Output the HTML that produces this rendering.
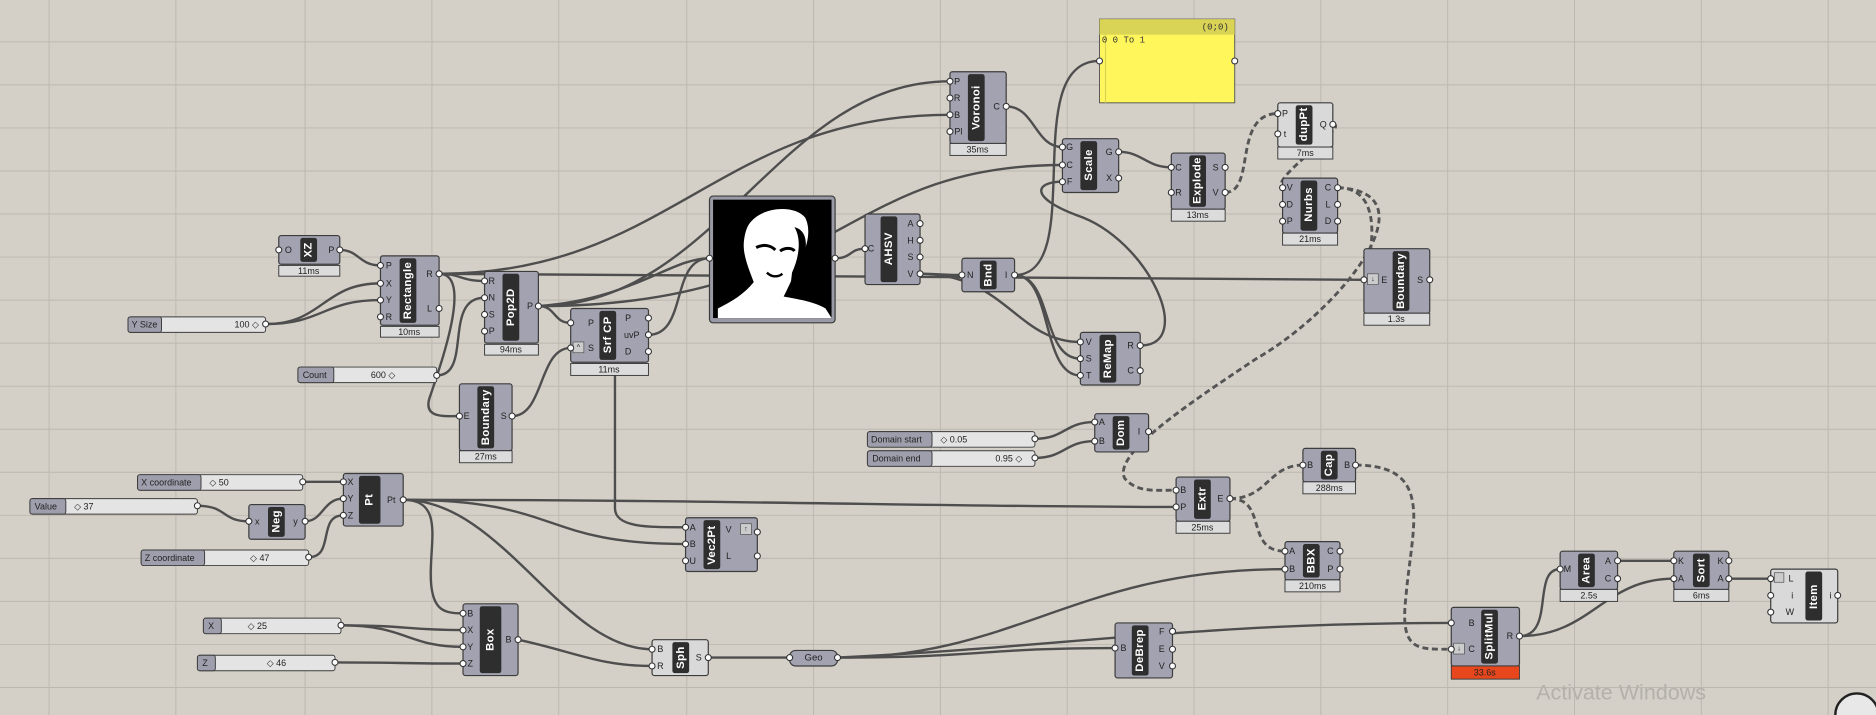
<!DOCTYPE html>
<html><head><meta charset="utf-8"><style>
html,body{margin:0;padding:0;background:#d4d0c8;overflow:hidden}
svg{display:block}
text{font-family:"Liberation Sans",sans-serif}
.b{fill:#a2a2b0;stroke:#3c3c3c;stroke-width:1}
.bl{fill:#d9d9d9;stroke:#3c3c3c;stroke-width:1}
.n{fill:#2e2e2e}
.nm{fill:#fff;font-size:9.5px;font-weight:bold;text-anchor:middle;dominant-baseline:central;letter-spacing:.3px}
.l{fill:#222;font-size:7.5px;text-anchor:middle;dominant-baseline:central}
.t{fill:#dcdcdc;stroke:#3c3c3c;stroke-width:.8}
.tt{fill:#222;font-size:7.5px;text-anchor:middle;dominant-baseline:central}
.g{fill:#fff;stroke:#333;stroke-width:.9}
.w{fill:none;stroke:#4e4e4e;stroke-width:2}
.wd{fill:none;stroke:#555;stroke-width:2.4;stroke-dasharray:5 3}
.sl{fill:#e4e4e4;stroke:#3c3c3c;stroke-width:.8}
.sll{fill:#9e9eac;stroke:#3c3c3c;stroke-width:.8}
.st{fill:#222;font-size:7.5px;dominant-baseline:central}
.grid{stroke:#bcb8b0;stroke-width:.8}
</style></head><body>
<svg width="1876" height="715" viewBox="0 0 1568 598" preserveAspectRatio="none" xmlns="http://www.w3.org/2000/svg">
<rect width="1568" height="598" fill="#d4d0c8"/>
<g class="grid">
<line x1="41" y1="0" x2="41" y2="598"/><line x1="147" y1="0" x2="147" y2="598"/><line x1="255" y1="0" x2="255" y2="598"/><line x1="361" y1="0" x2="361" y2="598"/><line x1="467" y1="0" x2="467" y2="598"/><line x1="574" y1="0" x2="574" y2="598"/><line x1="680" y1="0" x2="680" y2="598"/><line x1="786" y1="0" x2="786" y2="598"/><line x1="892" y1="0" x2="892" y2="598"/><line x1="998" y1="0" x2="998" y2="598"/><line x1="1104" y1="0" x2="1104" y2="598"/><line x1="1210" y1="0" x2="1210" y2="598"/><line x1="1316" y1="0" x2="1316" y2="598"/><line x1="1422" y1="0" x2="1422" y2="598"/><line x1="1528" y1="0" x2="1528" y2="598"/>
<line x1="0" y1="35" x2="1568" y2="35"/><line x1="0" y1="71" x2="1568" y2="71"/><line x1="0" y1="107" x2="1568" y2="107"/><line x1="0" y1="143" x2="1568" y2="143"/><line x1="0" y1="179" x2="1568" y2="179"/><line x1="0" y1="215" x2="1568" y2="215"/><line x1="0" y1="251" x2="1568" y2="251"/><line x1="0" y1="287" x2="1568" y2="287"/><line x1="0" y1="323" x2="1568" y2="323"/><line x1="0" y1="359" x2="1568" y2="359"/><line x1="0" y1="395" x2="1568" y2="395"/><line x1="0" y1="431" x2="1568" y2="431"/><line x1="0" y1="467" x2="1568" y2="467"/><line x1="0" y1="503" x2="1568" y2="503"/><line x1="0" y1="539" x2="1568" y2="539"/><line x1="0" y1="575" x2="1568" y2="575"/>
</g>

<!-- wires -->
<g>
<path class="w" d="M284,209 C300,209 300,222 318,222"/>
<path class="w" d="M222,271 C270,271 270,237 318,237"/>
<path class="w" d="M222,271 C270,271 270,251 318,251"/>
<path class="w" d="M367,229 C385,229 385,235 405,235"/>
<path class="w" d="M367,229 C700,229 800,234 1140,234"/>
<path class="w" d="M367,229 C560,229 600,96 794,96"/>
<path class="w" d="M367,229 C395,229 370,300 360,330 C352,350 370,348 384,348"/>
<path class="w" d="M365,314 C395,314 370,249 405,249"/>
<path class="w" d="M450,256 C600,256 650,68 794,68"/>
<path class="w" d="M450,256 C700,256 700,138 888,138"/>
<path class="w" d="M450,256 C465,256 462,270 477,270"/>
<path class="w" d="M450,256 C530,250 560,216 593,216"/>
<path class="w" d="M428,348 C455,348 450,291 477,291"/>
<path class="w" d="M542,280 C575,280 560,216 593,216"/>
<path class="w" d="M514,314 L514,425 C514,441 540,441 573,441"/>
<path class="w" d="M698,216 C712,216 710,208 723,208"/>
<path class="w" d="M769,229 C785,229 788,230 804,230"/>
<path class="w" d="M769,229 C840,229 850,286 903,286"/>
<path class="w" d="M848,230 C910,230 850,51 919,51"/>
<path class="w" d="M848,230 C880,230 870,300 903,300"/>
<path class="w" d="M848,230 C880,230 870,314 903,314"/>
<path class="w" d="M841,89 C865,89 865,123 888,123"/>
<path class="w" d="M953,289 C1000,289 960,200 900,180 C860,165 865,152 888,152"/>
<path class="w" d="M935,127 C955,127 958,140 979,140"/>
<path class="wd" d="M1024,161 C1050,161 1030,95 1068,95"/>
<path class="wd" d="M1114,104 C1130,104 1060,150 1072,157"/>
<path class="wd" d="M1118,157 C1165,157 1140,234 1140,234"/>
<path class="wd" d="M1118,157 C1200,160 1120,260 1050,300 C990,340 930,380 940,400 C950,412 965,410 983,410"/>
<path class="w" d="M865,367 C890,367 890,353 915,353"/>
<path class="w" d="M865,383 C890,383 890,369 915,369"/>
<path class="w" d="M253,403 C270,403 270,403 287,403"/>
<path class="w" d="M165,423 C190,423 185,436 208,436"/>
<path class="w" d="M255,436 C270,436 270,417 287,417"/>
<path class="w" d="M258,466 C280,466 265,431 287,431"/>
<path class="w" d="M337,418 C600,418 800,424 983,424"/>
<path class="w" d="M337,418 C470,418 450,455 573,455"/>
<path class="w" d="M337,418 C370,418 360,450 360,480 C360,510 370,513 387,513"/>
<path class="w" d="M337,418 C420,418 470,543 545,543"/>
<path class="w" d="M285,523 C340,523 340,527 387,527"/>
<path class="w" d="M285,523 C340,523 340,541 387,541"/>
<path class="w" d="M280,554 C330,554 340,555 387,555"/>
<path class="w" d="M433,535 C480,545 500,557 545,557"/>
<path class="w" d="M592,550 C620,550 630,550 660,550"/>
<path class="w" d="M700,550 C820,550 820,542 932,542"/>
<path class="w" d="M700,550 C850,550 900,476 1074,476"/>
<path class="w" d="M700,550 C900,540 1000,521 1213,521"/>
<path class="wd" d="M1028,417 C1060,417 1060,389 1089,389"/>
<path class="wd" d="M1028,417 C1060,417 1040,461 1074,461"/>
<path class="wd" d="M1133,389 C1200,389 1180,440 1175,500 C1170,545 1185,543 1213,543"/>
<path class="w" d="M1270,532 C1300,532 1280,476 1304,476"/>
<path class="w" d="M1270,532 C1330,532 1340,484 1399,484"/>
<path class="w" d="M1352,469 C1375,469 1375,469 1399,469"/>
<path class="w" d="M1445,484 C1460,484 1465,484 1480,484"/>
</g>

<!-- Panel -->
<rect x="919" y="16" width="113" height="70" fill="#fff65c" stroke="#555" stroke-width=".8"/>
<rect x="919" y="16" width="113" height="13" fill="#d9d356"/>
<line x1="924" y1="16" x2="924" y2="86" stroke="#d9d356" stroke-width="1"/>
<text x="1027" y="23" style="font-family:'Liberation Mono',monospace;font-size:7.5px;fill:#333;text-anchor:end;dominant-baseline:central">(0;0)</text>
<text x="921" y="34" style="font-family:'Liberation Mono',monospace;font-size:7.5px;fill:#333;dominant-baseline:central">0 0 To 1</text>
<circle class="g" cx="919" cy="51" r="2.5"/><circle class="g" cx="1032" cy="51" r="2.5"/>

<!-- XZ -->
<rect class="b" x="233" y="197" width="51" height="24" rx="2"/><rect class="n" x="251" y="199" width="14" height="20" rx="2"/>
<text class="nm" transform="translate(258,209) rotate(-90)">XZ</text>
<text class="l" x="241" y="209">O</text><text class="l" x="277" y="209">P</text>
<circle class="g" cx="233" cy="209" r="2.5"/><circle class="g" cx="284" cy="209" r="2.5"/>
<rect class="t" x="233" y="222" width="51" height="9"/><text class="tt" x="258" y="226.5">11ms</text>

<!-- Rectangle -->
<rect class="b" x="318" y="214" width="49" height="58" rx="2"/><rect class="n" x="334" y="216" width="14" height="54" rx="2"/>
<text class="nm" transform="translate(341,243) rotate(-90)">Rectangle</text>
<text class="l" x="325" y="222">P</text><text class="l" x="325" y="237">X</text><text class="l" x="325" y="251">Y</text><text class="l" x="325" y="265">R</text>
<text class="l" x="359" y="229">R</text><text class="l" x="359" y="258">L</text>
<circle class="g" cx="318" cy="222" r="2.5"/><circle class="g" cx="318" cy="237" r="2.5"/><circle class="g" cx="318" cy="251" r="2.5"/><circle class="g" cx="318" cy="265" r="2.5"/>
<circle class="g" cx="367" cy="229" r="2.5"/><circle class="g" cx="367" cy="258" r="2.5"/>
<rect class="t" x="318" y="273" width="49" height="9"/><text class="tt" x="342" y="277.5">10ms</text>

<!-- Pop2D -->
<rect class="b" x="405" y="227" width="45" height="60" rx="2"/><rect class="n" x="420" y="229" width="14" height="56" rx="2"/>
<text class="nm" transform="translate(427,257) rotate(-90)">Pop2D</text>
<text class="l" x="411" y="235">R</text><text class="l" x="411" y="249">N</text><text class="l" x="411" y="263">S</text><text class="l" x="411" y="277">P</text><text class="l" x="443" y="256">P</text>
<circle class="g" cx="405" cy="235" r="2.5"/><circle class="g" cx="405" cy="249" r="2.5"/><circle class="g" cx="405" cy="263" r="2.5"/><circle class="g" cx="405" cy="277" r="2.5"/><circle class="g" cx="450" cy="256" r="2.5"/>
<rect class="t" x="405" y="288" width="45" height="9"/><text class="tt" x="427" y="292.5">94ms</text>

<!-- Srf CP -->
<rect class="b" x="477" y="258" width="65" height="45" rx="2"/><rect class="n" x="501" y="260" width="14" height="41" rx="2"/>
<text class="nm" transform="translate(508,280) rotate(-90)">Srf CP</text>
<text class="l" x="494" y="270">P</text><text class="l" x="494" y="291">S</text>
<rect x="479" y="286" width="9" height="9" fill="#ccc" stroke="#555" stroke-width=".6"/><text class="l" x="483.5" y="290.5" style="font-size:6px">^</text>
<text class="l" x="525" y="266">P</text><text class="l" x="528" y="280">uvP</text><text class="l" x="525" y="294">D</text>
<circle class="g" cx="477" cy="270" r="2.5"/><circle class="g" cx="477" cy="291" r="2.5"/><circle class="g" cx="542" cy="266" r="2.5"/><circle class="g" cx="542" cy="280" r="2.5"/><circle class="g" cx="542" cy="294" r="2.5"/>
<rect class="t" x="477" y="304" width="65" height="10"/><text class="tt" x="509" y="309">11ms</text>

<!-- Y Size slider -->
<rect class="sl" x="107" y="265" width="115" height="13" rx="2"/><rect class="sll" x="107" y="265" width="28" height="13" rx="2"/>
<text class="st" x="110" y="271.5">Y Size</text><text class="st" x="196" y="271.5">100 ◇</text>
<circle class="g" cx="222" cy="271" r="2.5"/>
<!-- Count slider -->
<rect class="sl" x="249" y="307" width="116" height="13" rx="2"/><rect class="sll" x="249" y="307" width="30" height="13" rx="2"/>
<text class="st" x="253" y="313.5">Count</text><text class="st" x="310" y="313.5">600 ◇</text>
<circle class="g" cx="365" cy="314" r="2.5"/>

<!-- Boundary left -->
<rect class="b" x="384" y="321" width="44" height="56" rx="2"/><rect class="n" x="399" y="323" width="14" height="52" rx="2"/>
<text class="nm" transform="translate(406,349) rotate(-90)">Boundary</text>
<text class="l" x="390" y="348">E</text><text class="l" x="421" y="348">S</text>
<circle class="g" cx="384" cy="348" r="2.5"/><circle class="g" cx="428" cy="348" r="2.5"/>
<rect class="t" x="384" y="377" width="44" height="10"/><text class="tt" x="406" y="382">27ms</text>

<!-- Image -->
<rect x="593" y="164" width="105" height="106" rx="3" fill="#9a9aa6" stroke="#3c3c3c"/>
<rect x="596" y="167" width="99" height="99" fill="#000"/>
<path d="M628,185 C640,172 665,172 673,182 C678,192 675,205 670,215 C666,225 660,238 655,248 C665,250 680,252 690,258 L695,266 L600,266 L600,258 C612,252 622,246 630,236 C626,225 620,212 622,200 C623,193 625,188 628,185 Z" fill="#fff"/>
<path d="M632,207 C638,204 644,205 648,209 M652,210 C656,207 662,207 664,210" stroke="#000" stroke-width="2.5" fill="none"/>
<path d="M641,228 C645,232 650,232 654,229" stroke="#000" stroke-width="2" fill="none"/>
<path d="M664,190 C670,200 668,215 662,228 L660,245 L672,248 L672,215 C676,200 672,192 664,190 Z" fill="#000"/>
<circle class="g" cx="593" cy="216" r="2.5"/><circle class="g" cx="698" cy="216" r="2.5"/>

<!-- AHSV -->
<rect class="b" x="723" y="179" width="46" height="59" rx="2"/><rect class="n" x="736" y="181" width="14" height="55" rx="2"/>
<text class="nm" transform="translate(743,208) rotate(-90)">AHSV</text>
<text class="l" x="728" y="208">C</text><text class="l" x="761" y="187">A</text><text class="l" x="761" y="201">H</text><text class="l" x="761" y="215">S</text><text class="l" x="761" y="229">V</text>
<circle class="g" cx="723" cy="208" r="2.5"/><circle class="g" cx="769" cy="187" r="2.5"/><circle class="g" cx="769" cy="201" r="2.5"/><circle class="g" cx="769" cy="215" r="2.5"/><circle class="g" cx="769" cy="229" r="2.5"/>

<!-- Bnd -->
<rect class="b" x="804" y="216" width="44" height="28" rx="2"/><rect class="n" x="819" y="218" width="14" height="24" rx="2"/>
<text class="nm" transform="translate(826,230) rotate(-90)">Bnd</text>
<text class="l" x="811" y="230">N</text><text class="l" x="841" y="230">I</text>
<circle class="g" cx="804" cy="230" r="2.5"/><circle class="g" cx="848" cy="230" r="2.5"/>

<!-- Voronoi -->
<rect class="b" x="794" y="60" width="47" height="60" rx="2"/><rect class="n" x="809" y="62" width="14" height="56" rx="2"/>
<text class="nm" transform="translate(816,90) rotate(-90)">Voronoi</text>
<text class="l" x="800" y="68">P</text><text class="l" x="800" y="82">R</text><text class="l" x="800" y="96">B</text><text class="l" x="801" y="110">Pl</text><text class="l" x="833" y="89">C</text>
<circle class="g" cx="794" cy="68" r="2.5"/><circle class="g" cx="794" cy="82" r="2.5"/><circle class="g" cx="794" cy="96" r="2.5"/><circle class="g" cx="794" cy="110" r="2.5"/><circle class="g" cx="841" cy="89" r="2.5"/>
<rect class="t" x="794" y="120" width="47" height="10"/><text class="tt" x="817" y="125">35ms</text>

<!-- Scale -->
<rect class="b" x="888" y="116" width="47" height="45" rx="2"/><rect class="n" x="903" y="118" width="14" height="41" rx="2"/>
<text class="nm" transform="translate(910,138) rotate(-90)">Scale</text>
<text class="l" x="894" y="123">G</text><text class="l" x="894" y="138">C</text><text class="l" x="894" y="152">F</text><text class="l" x="927" y="127">G</text><text class="l" x="927" y="149">X</text>
<circle class="g" cx="888" cy="123" r="2.5"/><circle class="g" cx="888" cy="138" r="2.5"/><circle class="g" cx="888" cy="152" r="2.5"/><circle class="g" cx="935" cy="127" r="2.5"/><circle class="g" cx="935" cy="149" r="2.5"/>

<!-- Explode -->
<rect class="b" x="979" y="128" width="45" height="47" rx="2"/><rect class="n" x="994" y="130" width="14" height="43" rx="2"/>
<text class="nm" transform="translate(1001,151) rotate(-90)">Explode</text>
<text class="l" x="985" y="140">C</text><text class="l" x="985" y="161">R</text><text class="l" x="1016" y="140">S</text><text class="l" x="1016" y="161">V</text>
<circle class="g" cx="979" cy="140" r="2.5"/><circle class="g" cx="979" cy="161" r="2.5"/><circle class="g" cx="1024" cy="140" r="2.5"/><circle class="g" cx="1024" cy="161" r="2.5"/>
<rect class="t" x="979" y="175" width="45" height="10"/><text class="tt" x="1001" y="180">13ms</text>

<!-- dupPt -->
<rect class="bl" x="1068" y="86" width="46" height="37" rx="2"/><rect class="n" x="1083" y="88" width="14" height="33" rx="2"/>
<text class="nm" transform="translate(1090,104) rotate(-90)">dupPt</text>
<text class="l" x="1074" y="95">P</text><text class="l" x="1074" y="112">t</text><text class="l" x="1106" y="104">Q</text>
<circle class="g" cx="1068" cy="95" r="2.5"/><circle class="g" cx="1068" cy="112" r="2.5"/><circle class="g" cx="1114" cy="104" r="2.5"/>
<rect class="t" x="1068" y="123" width="46" height="10"/><text class="tt" x="1091" y="128">7ms</text>

<!-- Nurbs -->
<rect class="b" x="1072" y="149" width="46" height="46" rx="2"/><rect class="n" x="1087" y="151" width="14" height="42" rx="2"/>
<text class="nm" transform="translate(1094,171) rotate(-90)">Nurbs</text>
<text class="l" x="1078" y="157">V</text><text class="l" x="1078" y="171">D</text><text class="l" x="1078" y="185">P</text><text class="l" x="1110" y="157">C</text><text class="l" x="1110" y="171">L</text><text class="l" x="1110" y="185">D</text>
<circle class="g" cx="1072" cy="157" r="2.5"/><circle class="g" cx="1072" cy="171" r="2.5"/><circle class="g" cx="1072" cy="185" r="2.5"/><circle class="g" cx="1118" cy="157" r="2.5"/><circle class="g" cx="1118" cy="171" r="2.5"/><circle class="g" cx="1118" cy="185" r="2.5"/>
<rect class="t" x="1072" y="195" width="46" height="10"/><text class="tt" x="1095" y="200">21ms</text>

<!-- Boundary right -->
<rect class="b" x="1140" y="208" width="55" height="54" rx="2"/><rect class="n" x="1164" y="210" width="14" height="50" rx="2"/>
<text class="nm" transform="translate(1171,235) rotate(-90)">Boundary</text>
<rect x="1143" y="229" width="9" height="9" fill="#ccc" stroke="#555" stroke-width=".6"/><text class="l" x="1147.5" y="233.5" style="font-size:6px">↓</text>
<text class="l" x="1157" y="234">E</text><text class="l" x="1187" y="234">S</text>
<circle class="g" cx="1140" cy="234" r="2.5"/><circle class="g" cx="1195" cy="234" r="2.5"/>
<rect class="t" x="1140" y="262" width="55" height="10"/><text class="tt" x="1167" y="267">1.3s</text>

<!-- ReMap -->
<rect class="b" x="903" y="278" width="50" height="44" rx="2"/><rect class="n" x="919" y="280" width="14" height="40" rx="2"/>
<text class="nm" transform="translate(926,300) rotate(-90)">ReMap</text>
<text class="l" x="910" y="286">V</text><text class="l" x="910" y="300">S</text><text class="l" x="910" y="314">T</text><text class="l" x="945" y="289">R</text><text class="l" x="945" y="310">C</text>
<circle class="g" cx="903" cy="286" r="2.5"/><circle class="g" cx="903" cy="300" r="2.5"/><circle class="g" cx="903" cy="314" r="2.5"/><circle class="g" cx="953" cy="289" r="2.5"/><circle class="g" cx="953" cy="310" r="2.5"/>

<!-- Domain sliders -->
<rect class="sl" x="725" y="361" width="140" height="13" rx="2"/><rect class="sll" x="725" y="361" width="54" height="13" rx="2"/>
<text class="st" x="728" y="367.5">Domain start</text><text class="st" x="786" y="367.5">◇ 0.05</text><circle class="g" cx="865" cy="367" r="2.5"/>
<rect class="sl" x="725" y="377" width="140" height="13" rx="2"/><rect class="sll" x="725" y="377" width="54" height="13" rx="2"/>
<text class="st" x="729" y="383.5">Domain end</text><text class="st" x="832" y="383.5">0.95 ◇</text><circle class="g" cx="865" cy="383" r="2.5"/>

<!-- Dom -->
<rect class="b" x="915" y="346" width="45" height="32" rx="2"/><rect class="n" x="930" y="348" width="14" height="28" rx="2"/>
<text class="nm" transform="translate(937,362) rotate(-90)">Dom</text>
<text class="l" x="921" y="353">A</text><text class="l" x="921" y="369">B</text><text class="l" x="952" y="361">I</text>
<circle class="g" cx="915" cy="353" r="2.5"/><circle class="g" cx="915" cy="369" r="2.5"/><circle class="g" cx="960" cy="361" r="2.5"/>

<!-- Extr -->
<rect class="b" x="983" y="399" width="45" height="37" rx="2"/><rect class="n" x="998" y="401" width="14" height="33" rx="2"/>
<text class="nm" transform="translate(1005,417) rotate(-90)">Extr</text>
<text class="l" x="989" y="410">B</text><text class="l" x="989" y="424">P</text><text class="l" x="1020" y="417">E</text>
<circle class="g" cx="983" cy="410" r="2.5"/><circle class="g" cx="983" cy="424" r="2.5"/><circle class="g" cx="1028" cy="417" r="2.5"/>
<rect class="t" x="983" y="436" width="45" height="10"/><text class="tt" x="1005" y="441">25ms</text>

<!-- Cap -->
<rect class="b" x="1089" y="375" width="44" height="28" rx="2"/><rect class="n" x="1104" y="377" width="14" height="24" rx="2"/>
<text class="nm" transform="translate(1111,389) rotate(-90)">Cap</text>
<text class="l" x="1095" y="389">B</text><text class="l" x="1126" y="389">B</text>
<circle class="g" cx="1089" cy="389" r="2.5"/><circle class="g" cx="1133" cy="389" r="2.5"/>
<rect class="t" x="1089" y="403" width="44" height="10"/><text class="tt" x="1111" y="408">288ms</text>

<!-- BBX -->
<rect class="b" x="1074" y="453" width="46" height="32" rx="2"/><rect class="n" x="1089" y="455" width="14" height="28" rx="2"/>
<text class="nm" transform="translate(1096,469) rotate(-90)">BBX</text>
<text class="l" x="1080" y="461">A</text><text class="l" x="1080" y="476">B</text><text class="l" x="1112" y="461">C</text><text class="l" x="1112" y="476">P</text>
<circle class="g" cx="1074" cy="461" r="2.5"/><circle class="g" cx="1074" cy="476" r="2.5"/><circle class="g" cx="1120" cy="461" r="2.5"/><circle class="g" cx="1120" cy="476" r="2.5"/>
<rect class="t" x="1074" y="485" width="46" height="10"/><text class="tt" x="1097" y="490">210ms</text>

<!-- Point sliders -->
<rect class="sl" x="115" y="397" width="138" height="13" rx="2"/><rect class="sll" x="115" y="397" width="53" height="13" rx="2"/>
<text class="st" x="118" y="403.5">X coordinate</text><text class="st" x="175" y="403.5">◇ 50</text><circle class="g" cx="253" cy="403" r="2.5"/>
<rect class="sl" x="25" y="417" width="140" height="13" rx="2"/><rect class="sll" x="25" y="417" width="30" height="13" rx="2"/>
<text class="st" x="29" y="423.5">Value</text><text class="st" x="62" y="423.5">◇ 37</text><circle class="g" cx="165" cy="423" r="2.5"/>
<rect class="sl" x="118" y="460" width="140" height="13" rx="2"/><rect class="sll" x="118" y="460" width="53" height="13" rx="2"/>
<text class="st" x="121" y="466.5">Z coordinate</text><text class="st" x="209" y="466.5">◇ 47</text><circle class="g" cx="258" cy="466" r="2.5"/>

<!-- Neg -->
<rect class="b" x="208" y="422" width="47" height="29" rx="2"/><rect class="n" x="224" y="424" width="14" height="25" rx="2"/>
<text class="nm" transform="translate(231,436) rotate(-90)">Neg</text>
<text class="l" x="215" y="436">x</text><text class="l" x="247" y="436">y</text>
<circle class="g" cx="208" cy="436" r="2.5"/><circle class="g" cx="255" cy="436" r="2.5"/>

<!-- Pt -->
<rect class="b" x="287" y="396" width="50" height="44" rx="2"/><rect class="n" x="300" y="398" width="18" height="40" rx="2"/>
<text class="nm" transform="translate(309,418) rotate(-90)">Pt</text>
<text class="l" x="293" y="403">X</text><text class="l" x="293" y="417">Y</text><text class="l" x="293" y="431">Z</text><text class="l" x="327" y="418">Pt</text>
<circle class="g" cx="287" cy="403" r="2.5"/><circle class="g" cx="287" cy="417" r="2.5"/><circle class="g" cx="287" cy="431" r="2.5"/><circle class="g" cx="337" cy="418" r="2.5"/>

<!-- Vec2Pt -->
<rect class="b" x="573" y="433" width="60" height="45" rx="2"/><rect class="n" x="588" y="435" width="14" height="41" rx="2"/>
<text class="nm" transform="translate(595,456) rotate(-90)">Vec2Pt</text>
<text class="l" x="579" y="441">A</text><text class="l" x="579" y="455">B</text><text class="l" x="579" y="469">U</text><text class="l" x="609" y="443">V</text><text class="l" x="609" y="465">L</text>
<rect x="619" y="438" width="9" height="9" fill="#ccc" stroke="#555" stroke-width=".6"/><text class="l" x="623.5" y="442.5" style="font-size:6px">↑</text>
<circle class="g" cx="573" cy="441" r="2.5"/><circle class="g" cx="573" cy="455" r="2.5"/><circle class="g" cx="573" cy="469" r="2.5"/><circle class="g" cx="633" cy="445" r="2.5"/><circle class="g" cx="633" cy="465" r="2.5"/>

<!-- X / Z sliders -->
<rect class="sl" x="170" y="517" width="115" height="13" rx="2"/><rect class="sll" x="170" y="517" width="15" height="13" rx="2"/>
<text class="st" x="174" y="523.5">X</text><text class="st" x="207" y="523.5">◇ 25</text><circle class="g" cx="285" cy="523" r="2.5"/>
<rect class="sl" x="165" y="548" width="115" height="13" rx="2"/><rect class="sll" x="165" y="548" width="15" height="13" rx="2"/>
<text class="st" x="169" y="554.5">Z</text><text class="st" x="223" y="554.5">◇ 46</text><circle class="g" cx="280" cy="554" r="2.5"/>

<!-- Box -->
<rect class="b" x="387" y="505" width="46" height="60" rx="2"/><rect class="n" x="401" y="507" width="18" height="56" rx="2"/>
<text class="nm" transform="translate(410,535) rotate(-90)">Box</text>
<text class="l" x="393" y="513">B</text><text class="l" x="393" y="527">X</text><text class="l" x="393" y="541">Y</text><text class="l" x="393" y="555">Z</text><text class="l" x="425" y="535">B</text>
<circle class="g" cx="387" cy="513" r="2.5"/><circle class="g" cx="387" cy="527" r="2.5"/><circle class="g" cx="387" cy="541" r="2.5"/><circle class="g" cx="387" cy="555" r="2.5"/><circle class="g" cx="433" cy="535" r="2.5"/>

<!-- Sph -->
<rect class="bl" x="545" y="535" width="47" height="30" rx="2"/><rect class="n" x="562" y="537" width="14" height="26" rx="2"/>
<text class="nm" transform="translate(569,550) rotate(-90)">Sph</text>
<text class="l" x="552" y="543">B</text><text class="l" x="552" y="557">R</text><text class="l" x="584" y="550">S</text>
<circle class="g" cx="545" cy="543" r="2.5"/><circle class="g" cx="545" cy="557" r="2.5"/><circle class="g" cx="592" cy="550" r="2.5"/>

<!-- Geo -->
<rect class="b" x="660" y="544" width="40" height="13" rx="5"/>
<text class="l" x="680" y="550.5" style="font-size:8px">Geo</text>
<circle class="g" cx="660" cy="550" r="2.5"/><circle class="g" cx="700" cy="550" r="2.5"/>

<!-- DeBrep -->
<rect class="b" x="932" y="521" width="48" height="46" rx="2"/><rect class="n" x="946" y="523" width="14" height="42" rx="2"/>
<text class="nm" transform="translate(953,544) rotate(-90)">DeBrep</text>
<text class="l" x="939" y="542">B</text><text class="l" x="971" y="528">F</text><text class="l" x="971" y="543">E</text><text class="l" x="971" y="557">V</text>
<circle class="g" cx="932" cy="542" r="2.5"/><circle class="g" cx="980" cy="528" r="2.5"/><circle class="g" cx="980" cy="543" r="2.5"/><circle class="g" cx="980" cy="557" r="2.5"/>

<!-- SplitMul -->
<rect class="b" x="1213" y="508" width="57" height="49" rx="2"/><rect class="n" x="1238" y="510" width="14" height="45" rx="2"/>
<text class="nm" transform="translate(1245,532) rotate(-90)">SplitMul</text>
<text class="l" x="1230" y="521">B</text><text class="l" x="1230" y="543">C</text><text class="l" x="1262" y="532">R</text>
<rect x="1215" y="538" width="9" height="9" fill="#ccc" stroke="#555" stroke-width=".6"/><text class="l" x="1219.5" y="542.5" style="font-size:6px">↓</text>
<circle class="g" cx="1213" cy="521" r="2.5"/><circle class="g" cx="1213" cy="543" r="2.5"/><circle class="g" cx="1270" cy="532" r="2.5"/>
<rect x="1213" y="557" width="57" height="11" fill="#e8461c" stroke="#3c3c3c" stroke-width=".8"/><text class="tt" x="1241" y="562.5">33.6s</text>

<!-- Area -->
<rect class="b" x="1304" y="461" width="48" height="32" rx="2"/><rect class="n" x="1319" y="463" width="14" height="28" rx="2"/>
<text class="nm" transform="translate(1326,477) rotate(-90)">Area</text>
<text class="l" x="1310" y="476">M</text><text class="l" x="1344" y="469">A</text><text class="l" x="1344" y="484">C</text>
<circle class="g" cx="1304" cy="476" r="2.5"/><circle class="g" cx="1352" cy="469" r="2.5"/><circle class="g" cx="1352" cy="484" r="2.5"/>
<rect class="t" x="1304" y="493" width="48" height="10"/><text class="tt" x="1328" y="498">2.5s</text>

<!-- Sort -->
<rect class="b" x="1399" y="461" width="46" height="32" rx="2"/><rect class="n" x="1415" y="463" width="14" height="28" rx="2"/>
<text class="nm" transform="translate(1422,477) rotate(-90)">Sort</text>
<text class="l" x="1405" y="469">K</text><text class="l" x="1405" y="484">A</text><text class="l" x="1438" y="469">K</text><text class="l" x="1438" y="484">A</text>
<circle class="g" cx="1399" cy="469" r="2.5"/><circle class="g" cx="1399" cy="484" r="2.5"/><circle class="g" cx="1445" cy="469" r="2.5"/><circle class="g" cx="1445" cy="484" r="2.5"/>
<rect class="t" x="1399" y="493" width="46" height="10"/><text class="tt" x="1422" y="498">6ms</text>

<!-- Item -->
<rect class="bl" x="1480" y="476" width="56" height="45" rx="2"/><rect class="n" x="1509" y="478" width="14" height="41" rx="2"/>
<text class="nm" transform="translate(1516,499) rotate(-90)">Item</text>
<rect x="1483" y="479" width="8" height="8" fill="#ccc" stroke="#555" stroke-width=".6"/>
<text class="l" x="1497" y="484">L</text><text class="l" x="1498" y="498">i</text><text class="l" x="1496" y="512">W</text><text class="l" x="1530" y="498">i</text>
<circle class="g" cx="1480" cy="484" r="2.5"/><circle class="g" cx="1480" cy="498" r="2.5"/><circle class="g" cx="1480" cy="512" r="2.5"/><circle class="g" cx="1536" cy="498" r="2.5"/>

<text x="1284" y="585" style="font-size:18px;fill:#b4b0aa">Activate Windows</text>
<circle cx="1552" cy="598" r="18" fill="#e8e8e8" stroke="#222" stroke-width="2"/>
</svg>
</body></html>
